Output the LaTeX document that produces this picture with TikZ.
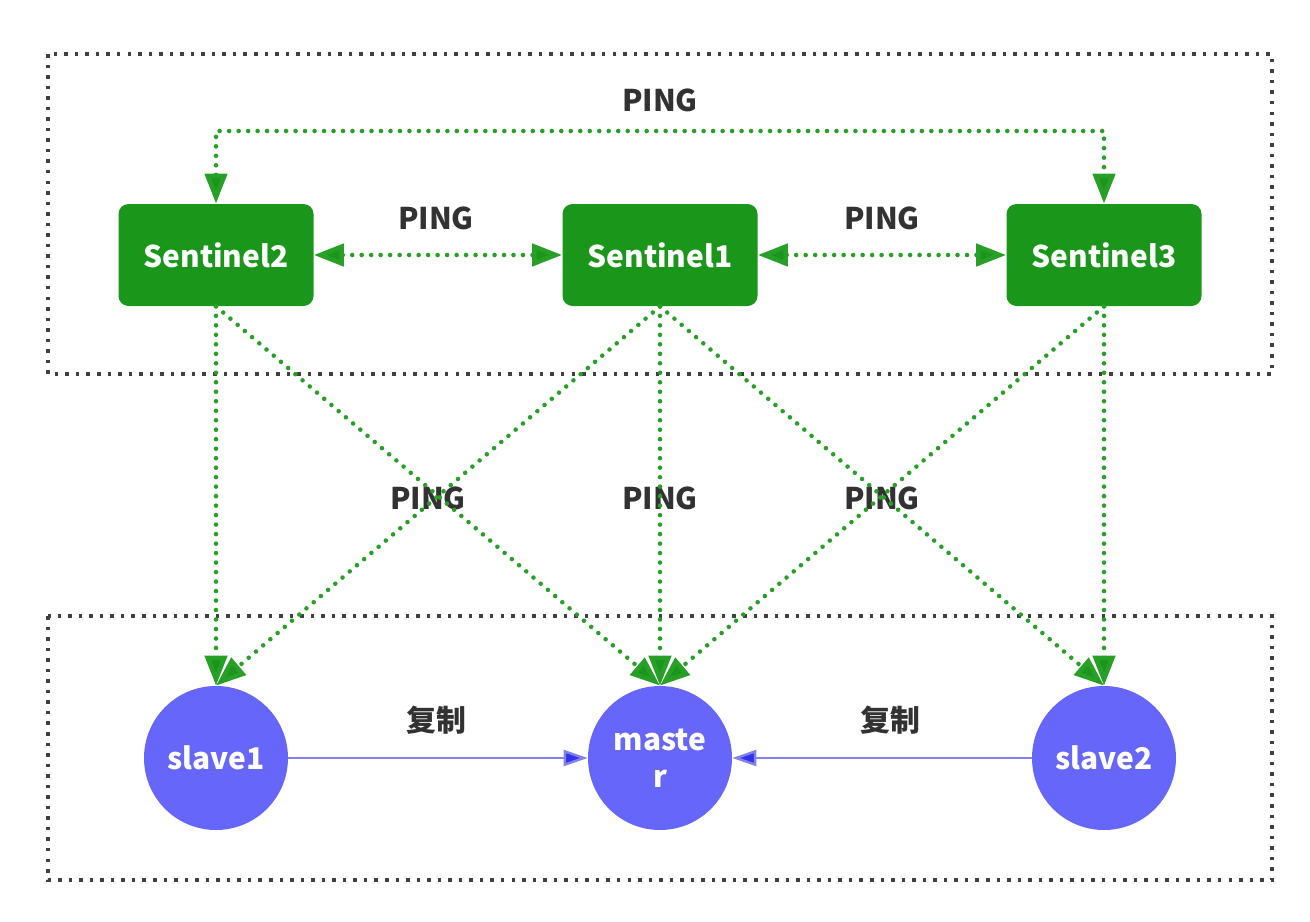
\documentclass[tikz,border=0pt]{standalone}
\usepackage{fontspec}
\setmainfont{Noto Sans CJK SC}
\usetikzlibrary{arrows.meta,positioning}
\definecolor{sentgreen}{RGB}{26,150,26}
\definecolor{pinggreen}{RGB}{40,160,40}
\definecolor{redisblue}{RGB}{102,102,250}
\definecolor{copyline}{RGB}{130,130,235}
\definecolor{copytip}{RGB}{50,50,235}
\definecolor{labelgray}{RGB}{50,50,50}
\begin{document}
\begin{tikzpicture}[node distance=8.88cm, font=\bfseries]

	% Define node styles
	\tikzstyle{sentinel node} = [rectangle, rounded corners=0.2cm, fill=sentgreen, minimum width=3.9cm, minimum height=2.04cm, text=white, font=\bfseries\fontsize{17}{20}\selectfont]
	\tikzstyle{redis node} = [circle, fill=redisblue, minimum size=2.88cm, inner sep=0pt, text=white, align=center, font=\bfseries\fontsize{17}{21}\selectfont]
	\tikzstyle{ping label} = [text=labelgray, font=\bfseries\fontsize{17}{20}\selectfont]
	\tikzstyle{ping line} = [draw=pinggreen, line width=2.6pt, line cap=round, dash pattern=on 0pt off 5.4pt]
	\tikzstyle{ping tip} = [>={Triangle[length=0.6cm,width=0.44cm,fill=sentgreen,sep=0pt]}]
	\tikzstyle{group box} = [draw=black!75, line width=2pt, dash pattern=on 2pt off 4pt]
	\tikzstyle{copy line} = [draw=copyline, line width=1.4pt, -{Triangle[length=0.48cm,width=0.32cm,fill=copytip]}]

	\useasboundingbox (0,0) rectangle (26.2,-18.44);

	% Dotted groups
	\draw[group box] (0.96,-1.08) rectangle (25.44,-7.48);
	\draw[group box] (0.96,-12.32) rectangle (25.44,-17.6);

	% Place nodes for sentinels
	\node[sentinel node] (s1) at (13.2,-5.1) {Sentinel1};
	\node[sentinel node] (s2) [left of=s1] {Sentinel2};
	\node[sentinel node] (s3) [right of=s1] {Sentinel3};

	% Place nodes for redis servers
	\node[redis node] (master) [below of=s1, node distance=10.06cm] {maste\\r};
	\node[redis node] (slave1) [below of=s2, node distance=10.06cm] {slave1};
	\node[redis node] (slave2) [below of=s3, node distance=10.06cm] {slave2};

	% Labels
	\node[ping label] (pingtop) at (13.2,-2.0) {PING};
	\node[ping label] (ping21) at (8.72,-4.36) {PING};
	\node[ping label] (ping13) at (17.64,-4.36) {PING};
	\node[ping label] (pingl) at (8.56,-9.96) {PING};
	\node[ping label] (pingm) at (13.2,-9.96) {PING};
	\node[ping label] (pingr) at (17.64,-9.96) {PING};
	\node[ping label] (copyl) at (8.72,-14.4) {复制};
	\node[ping label] (copyr) at (17.8,-14.4) {复制};

	\coordinate (top) at (13.2,-2.62);

	% Ping between sentinels
	\draw[ping line, ping tip, <->] (s2.north) |- (top) -| (s3.north);
	\draw[ping line, ping tip, <->] (s2.east) -- (s1.west);
	\draw[ping line, ping tip, <->] (s1.east) -- (s3.west);

	% Ping from sentinels to redis servers
	\foreach \source/\dest in {
		s2/slave1,
		s2/master,
		s1/slave1,
		s1/master,
		s1/slave2,
		s3/master,
		s3/slave2}
	\path (\source.south) edge[ping line, ping tip, ->] (\dest.north);

	% Replication
	\draw[copy line] (slave1) -- (master);
	\draw[copy line] (slave2) -- (master);

\end{tikzpicture}
\end{document}
